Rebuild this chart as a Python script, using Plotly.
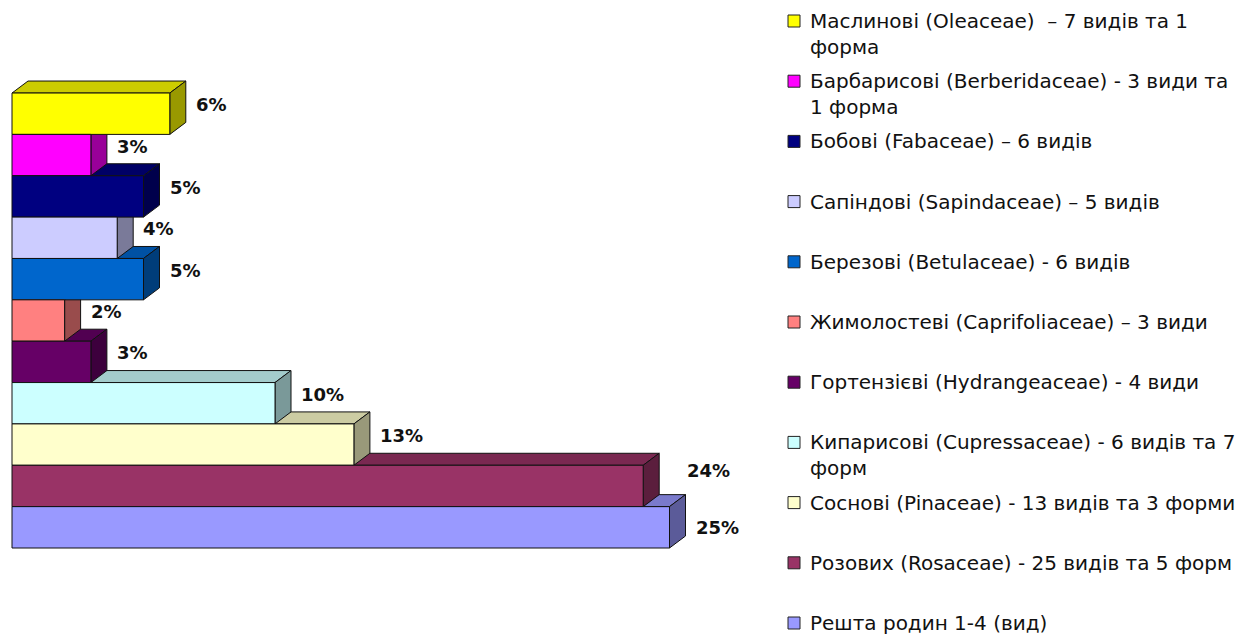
import plotly.graph_objects as go

# Plant families, listed from the top bar down, and their share of taxa (%)
families = [
    "Маслинові (Oleaceae)  – 7 видів та 1<br>форма",
    "Барбарисові (Berberidaceae) - 3 види та<br>1 форма",
    "Бобові (Fabaceae) – 6 видів",
    "Сапіндові (Sapindaceae) – 5 видів",
    "Березові (Betulaceae) - 6 видів",
    "Жимолостеві (Caprifoliaceae) – 3 види",
    "Гортензієві (Hydrangeaceae) - 4 види",
    "Кипарисові (Cupressaceae) - 6 видів та 7<br>форм",
    "Соснові (Pinaceae) - 13 видів та 3 форми",
    "Розових (Rosaceae) - 25 видів та 5 форм",
    "Решта родин 1-4 (вид)",
]
shares = [6, 3, 5, 4, 5, 2, 3, 10, 13, 24, 25]

# Front-face colours, same order as the families
palette = [
    "#FFFF00", "#FF00FF", "#000080", "#CCCCFF", "#0066CC", "#FF8080",
    "#660066", "#CCFFFF", "#FFFFCC", "#993366", "#9999FF",
]

# ---- page geometry (pixels) ----
W, H = 1250, 635
X0_PX = 12            # where 0 % sits
PX_PER_PCT = 26.3
Y_BOTTOM_PX = 548     # bottom edge of the lowest bar
PX_PER_ROW = 41.36
DEPTH_X_PX, DEPTH_Y_PX = 16, 12

dx = DEPTH_X_PX / PX_PER_PCT
dy = DEPTH_Y_PX / PX_PER_ROW
x_range = [-X0_PX / PX_PER_PCT, (W - X0_PX) / PX_PER_PCT]
y_range = [-0.5 - (H - Y_BOTTOM_PX) / PX_PER_ROW, -0.5 + Y_BOTTOM_PX / PX_PER_ROW]

n = len(shares)
rows = [n - 1 - k for k in range(n)]   # top bar gets the highest row


def shade(hex_color, f):
    h = hex_color.lstrip("#")
    r, g, b = (int(h[i:i + 2], 16) for i in (0, 2, 4))
    return "rgb({},{},{})".format(int(r * f), int(g * f), int(b * f))


fig = go.Figure()

# front faces
fig.add_trace(go.Bar(
    x=shares, y=rows, orientation="h", base=0, width=1,
    marker=dict(color=palette, line=dict(color="#111111", width=1)),
    hoverinfo="skip", showlegend=False,
))

# top and side faces, drawn from the bottom bar upwards so upper bars overlap
shapes = []
for k in sorted(range(n), key=lambda j: rows[j]):
    v, y, c = shares[k], rows[k], palette[k]
    top = "M 0 {a} L {v} {a} L {v2} {b} L {d} {b} Z".format(
        a=y + 0.5, b=y + 0.5 + dy, v=v, v2=v + dx, d=dx)
    side = "M {v} {a} L {v2} {a2} L {v2} {b2} L {v} {b} Z".format(
        v=v, v2=v + dx, a=y - 0.5, a2=y - 0.5 + dy, b=y + 0.5, b2=y + 0.5 + dy)
    shapes.append(dict(type="path", path=top, xref="x", yref="y", layer="below",
                       fillcolor=shade(c, 0.8), line=dict(color="#111111", width=1)))
    shapes.append(dict(type="path", path=side, xref="x", yref="y", layer="below",
                       fillcolor=shade(c, 0.6), line=dict(color="#111111", width=1)))

# value labels beside each bar
nudge = {24: (18, 15), 25: (0, 0)}
annotations = []
for k in range(n):
    v = shares[k]
    xs, ys = nudge.get(v, (0, 9))
    annotations.append(dict(
        x=v + dx, y=rows[k], xref="x", yref="y", text="{}%".format(v),
        xanchor="left", yanchor="middle", xshift=8 + xs, yshift=ys, showarrow=False,
        font=dict(family="DejaVu Sans", size=18, color="#111111", weight="bold"),
    ))

# legend built from coloured squares and text
LEG_SQ_X0, LEG_SQ_X1, LEG_TEXT_X = 788, 800, 808
LEG_FIRST_Y, LEG_STEP = 21, 60.2
LEG_FS = 20
for k in range(n):
    cy = LEG_FIRST_Y + k * LEG_STEP
    shapes.append(dict(type="rect", xref="paper", yref="paper",
                       x0=LEG_SQ_X0 / W, x1=LEG_SQ_X1 / W,
                       y0=1 - (cy + 6) / H, y1=1 - (cy - 6) / H,
                       fillcolor=palette[k], line=dict(color="#222222", width=1)))
    annotations.append(dict(
        x=LEG_TEXT_X / W, y=1 - (cy - 0.65 * LEG_FS - 1) / H, xref="paper", yref="paper",
        text=families[k], xanchor="left", yanchor="top", align="left", showarrow=False,
        font=dict(family="DejaVu Sans", size=LEG_FS, color="#111111"),
    ))

fig.update_layout(
    width=W, height=H, autosize=False,
    margin=dict(l=0, r=0, t=0, b=0),
    paper_bgcolor="white", plot_bgcolor="white",
    xaxis=dict(range=x_range, visible=False, fixedrange=True),
    yaxis=dict(range=y_range, visible=False, fixedrange=True),
    shapes=shapes, annotations=annotations, showlegend=False,
)

fig.write_html("out.html")
